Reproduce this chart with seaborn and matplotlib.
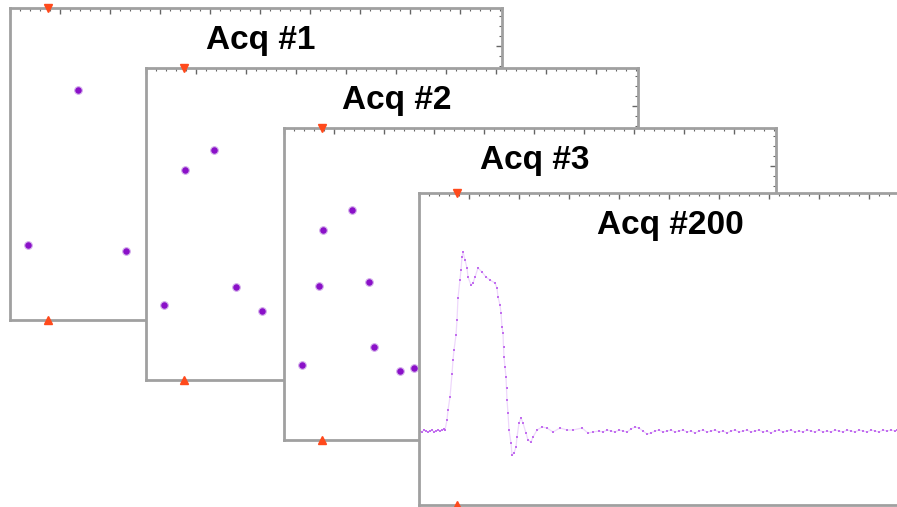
import pandas as pd
import seaborn as sns
import matplotlib.pyplot as plt
import matplotlib.ticker as mticker

# units: time in ns from the left edge of the record, amplitude in mV
TITLES = ["Acq #1", "Acq #2", "Acq #3", "Acq #200"]
TRIGGER_NS = 38

# equivalent-time samples added by each acquisition
acq1_t = [18, 68, 116]
acq1_a = [1, 156, -5]
acq2_t = [39, 90]
acq2_a = [136, 19]
acq3_t = [35, 85, 130]
acq3_a = [80, 84, -2]

# fully built-up waveform after 200 acquisitions
trace_t = [1, 3, 5, 7, 9, 11, 13, 15, 17, 19, 21, 23, 25, 26,
           28, 29, 31, 33, 34, 35, 37, 38, 39, 41, 42, 43, 44, 46, 48, 49,
           52, 54, 56, 59, 63, 67, 71, 76, 78, 79, 81, 82, 83, 84, 84.5, 85,
           86, 87, 87.5, 88, 89, 90, 92, 93, 95, 97, 98, 100, 102, 104, 107,
           109, 112, 114, 118, 123, 128, 134, 141, 148, 154, 163, 169, 174,
           180, 184, 188, 192, 196, 200, 204, 208, 212, 216, 220, 224, 228,
           232, 236, 240, 244, 248, 252, 256, 260, 264, 268, 272, 276, 280,
           284, 288, 292, 296, 300, 304, 308, 312, 316, 320, 324, 328, 332,
           336, 340, 344, 348, 352, 356, 360, 364, 368, 372, 376, 380, 384,
           388, 392, 396, 400, 404, 408, 412, 416, 420, 424, 428, 432, 436,
           440, 444, 448, 452, 456, 460, 464, 468, 472, 476, 478]
trace_a = [0, -1, 1, 0, -1, 0, 1, -1, 0, 1, 0, 1, 2, 1,
           11, 21, 34, 57, 71, 81, 96, 111, 133, 151, 161, 174, 179, 171, 163, 154,
           146, 148, 154, 163, 159, 154, 151, 148, 143, 134, 126, 118, 104, 98, 84, 74,
           64, 54, 43, 31, 18, 1, -12, -24, -22, -16, -6, 8, 13, 8, -2,
           -9, -11, -6, 1, 4, 3, -1, 3, 1, 1, 3, -2, -1,
           0, -1, 1, 0, -1, 1, 0, -1, 2, 4, 3, 0, -3,
           -2, 0, 1, -1, 0, 1, -1, 0, 1, -1, 0, -2, 0,
           1, -1, 0, 1, -1, 0, -2, 0, 1, -1, 0, 1, -1,
           0, 1, -1, 0, -2, 0, 1, -1, 0, 1, -1, 0, -1,
           1, 0, -1, 1, -1, 0, -1, 1, 0, -1, 1, 0, -1,
           1, 0, -1, 1, 0, -1, 1, 0, 1, 0, 1]

XLIM = (0, 492)
YLIM = (-74, 238)

# panel boxes in pixels: left, top, width, height
W, H = 897, 507
boxes = [(10, 8, 492, 312), (146, 68, 492, 312), (284, 128, 492, 312), (419, 193, 492, 312)]

sns.set_style("white")
plt.rcParams["font.family"] = ["Liberation Sans", "DejaVu Sans"]

fig = plt.figure(figsize=(W / 100, H / 100), dpi=100)

samples = [
    pd.DataFrame({"t": acq1_t, "a": acq1_a}),
    pd.DataFrame({"t": acq1_t + acq2_t, "a": acq1_a + acq2_a}),
    pd.DataFrame({"t": acq1_t + acq2_t + acq3_t, "a": acq1_a + acq2_a + acq3_a}),
]
trace = pd.DataFrame({"t": trace_t, "a": trace_a})

for i, (left, top, bw, bh) in enumerate(boxes):
    ax = fig.add_axes([left / W, 1 - (top + bh) / H, bw / W, bh / H], zorder=i + 1)
    ax.set_facecolor("white")

    if i < 3:
        sns.scatterplot(data=samples[i], x="t", y="a", ax=ax, color="#8a10c8",
                        s=30, edgecolor="#d4b0ec", linewidth=0.8, legend=False)
    else:
        sns.lineplot(data=trace, x="t", y="a", ax=ax, color="#cf8ff5",
                     linewidth=0.9, alpha=0.35, sort=False, estimator=None)
        sns.scatterplot(data=trace, x="t", y="a", ax=ax, color="#b040ea",
                        s=3, marker="s", linewidth=0, alpha=0.8, legend=False)

    # trigger position markers on top and bottom frame
    ax.plot([TRIGGER_NS], [YLIM[1]], marker="v", color="#ff4a1c", markersize=6,
            clip_on=False, zorder=10)
    ax.plot([TRIGGER_NS], [YLIM[0]], marker="^", color="#ff4a1c", markersize=6,
            clip_on=False, zorder=10)

    ax.set_xlim(XLIM)
    ax.set_ylim(YLIM)
    ax.set_xlabel("")
    ax.set_ylabel("")
    ax.xaxis.set_major_locator(mticker.MultipleLocator(50))
    ax.xaxis.set_minor_locator(mticker.MultipleLocator(10))
    ax.yaxis.set_major_locator(mticker.MultipleLocator(50))
    ax.yaxis.set_minor_locator(mticker.MultipleLocator(10))
    ax.tick_params(which="both", direction="in", top=True, right=True,
                   labelbottom=False, labelleft=False, color="#666666")
    ax.tick_params(which="major", length=4, width=1)
    ax.tick_params(which="minor", length=2.5, width=0.8)
    for sp in ax.spines.values():
        sp.set_color("#a0a0a0")
        sp.set_linewidth(2)

    ax.text(0.51, 0.895, TITLES[i], transform=ax.transAxes, ha="center", va="center",
            fontsize=24, fontweight="bold", color="black")

fig.savefig("out.png", dpi=100)
plt.close(fig)
